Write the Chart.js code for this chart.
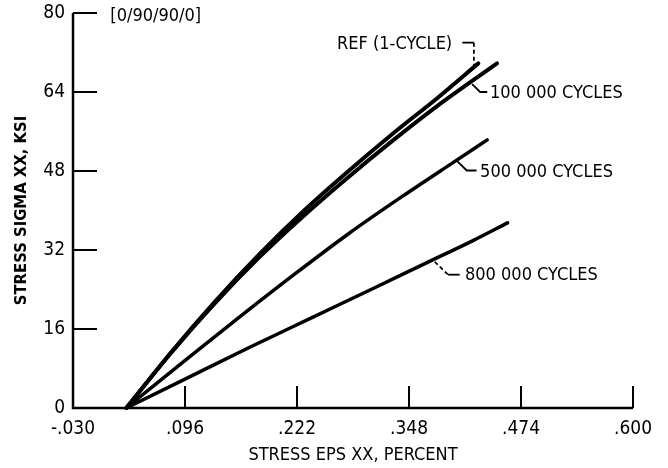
<!DOCTYPE html>
<html><head><meta charset="utf-8">
<script src="https://cdn.jsdelivr.net/npm/chart.js@4"></script>
<style>html,body{margin:0;padding:0;background:#fff}</style>
</head><body>
<canvas id="c" width="668" height="468" style="width:668px;height:468px;display:block"></canvas>
<script>
// ---- data ----
const refX   = [0.030, 0.080, 0.130, 0.180, 0.230, 0.280, 0.330, 0.380, 0.426];
const refY   = [0, 11.2, 21.6, 31.2, 40.0, 48.0, 55.6, 62.8, 69.8];
const c100kX = [0.030, 0.080, 0.130, 0.180, 0.230, 0.280, 0.330, 0.380, 0.447];
const c100kY = [0, 11.1, 21.3, 30.6, 39.0, 46.8, 54.2, 61.2, 69.8];
const c500kX = [0.030, 0.100, 0.160, 0.220, 0.280, 0.340, 0.400, 0.436];
const c500kY = [0, 10.2, 18.8, 27.2, 35.3, 42.8, 50.0, 54.3];
const c800kX = [0.030, 0.100, 0.170, 0.240, 0.310, 0.370, 0.420, 0.459];
const c800kY = [0, 6.2, 12.4, 18.4, 24.4, 29.6, 33.9, 37.5];

const xTicks = [-0.030, 0.096, 0.222, 0.348, 0.474, 0.600];
const xTickLabels = ['-.030', '.096', '.222', '.348', '.474', '.600'];
const yTicks = [0, 16, 32, 48, 64, 80];
const yTickLabels = ['0', '16', '32', '48', '64', '80'];

const xTitle = 'STRESS EPS XX, PERCENT';
const yTitle = 'STRESS SIGMA XX, KSI';
const layupLabel = '[0/90/90/0]';
const seriesNames = ['REF (1-CYCLE)', '100 000 CYCLES', '500 000 CYCLES', '800 000 CYCLES'];

// annotation anchors (data coordinates)
const labelAnchors = [
  {text: layupLabel,     x: 0.012, y: 79.4},
  {text: seriesNames[0], x: 0.267, y: 73.7},
  {text: seriesNames[1], x: 0.439, y: 63.8},
  {text: seriesNames[2], x: 0.428, y: 47.8},
  {text: seriesNames[3], x: 0.411, y: 26.8}
];
const leaders = [
  {dash: false, pts: [[0.408, 74.0], [0.421, 74.0]]},
  {dash: true,  pts: [[0.421, 74.0], [0.421, 69.2]]},
  {dash: false, pts: [[0.419, 65.6], [0.428, 64.0], [0.436, 64.0]]},
  {dash: false, pts: [[0.401, 50.2], [0.413, 48.1], [0.424, 48.1]]},
  {dash: true,  pts: [[0.377, 29.6], [0.392, 27.0]]},
  {dash: false, pts: [[0.392, 27.0], [0.405, 27.0]]}
];

const FONT = "'Liberation Sans Narrow', 'DejaVu Sans Condensed', sans-serif";
const toPts = (xs, ys) => xs.map((v, i) => ({x: v, y: ys[i]}));
const mkSet = (label, xs, ys, w) => ({
  label, data: toPts(xs, ys), showLine: true, borderColor: '#000', backgroundColor: '#000',
  borderWidth: w, pointRadius: 0, cubicInterpolationMode: 'monotone',
  borderCapStyle: 'round', borderJoinStyle: 'round', clip: false
});

const axesPlugin = {
  id: 'axesPlugin',
  beforeDatasetsDraw(chart) {
    const {ctx, chartArea: a, scales: {x, y}} = chart;
    ctx.save();
    ctx.strokeStyle = '#000';
    ctx.lineWidth = 2.5;
    ctx.beginPath();
    ctx.moveTo(a.left, y.getPixelForValue(80));
    ctx.lineTo(a.left, a.bottom);
    ctx.lineTo(x.getPixelForValue(0.6), a.bottom);
    ctx.stroke();
    ctx.lineWidth = 2;
    ctx.beginPath();
    yTicks.forEach(v => {
      if (v === 0) return;
      const py = y.getPixelForValue(v);
      ctx.moveTo(a.left, py); ctx.lineTo(a.left + 24, py);
    });
    xTicks.forEach((v, i) => {
      if (i === 0) return;
      const px = x.getPixelForValue(v);
      ctx.moveTo(px, a.bottom); ctx.lineTo(px, a.bottom - 22);
    });
    ctx.stroke();
    ctx.restore();
  },
  afterDatasetsDraw(chart) {
    const {ctx, scales: {x, y}} = chart;
    ctx.save();
    ctx.strokeStyle = '#000';
    ctx.lineWidth = 1.8;
    leaders.forEach(l => {
      ctx.setLineDash(l.dash ? [4, 3] : []);
      ctx.beginPath();
      l.pts.forEach((p, i) => {
        const px = x.getPixelForValue(p[0]), py = y.getPixelForValue(p[1]);
        if (i === 0) ctx.moveTo(px, py); else ctx.lineTo(px, py);
      });
      ctx.stroke();
    });
    ctx.setLineDash([]);
    ctx.fillStyle = '#000';
    ctx.font = '18px ' + FONT;
    ctx.textAlign = 'left';
    ctx.textBaseline = 'middle';
    labelAnchors.forEach(t => {
      ctx.fillText(t.text, x.getPixelForValue(t.x), y.getPixelForValue(t.y));
    });
    ctx.restore();
  }
};

new Chart(document.getElementById('c'), {
  type: 'scatter',
  data: {
    datasets: [
      mkSet(seriesNames[0], refX, refY, 4),
      mkSet(seriesNames[1], c100kX, c100kY, 4),
      mkSet(seriesNames[2], c500kX, c500kY, 3.5),
      mkSet(seriesNames[3], c800kX, c800kY, 3.5)
    ]
  },
  options: {
    responsive: false,
    animation: false,
    devicePixelRatio: 1,
    layout: {padding: {top: 13, right: 35, left: 0, bottom: 0}},
    plugins: {legend: {display: false}, tooltip: {enabled: false}},
    scales: {
      x: {
        type: 'linear', min: -0.03, max: 0.6,
        afterBuildTicks: s => { s.ticks = xTicks.map(v => ({value: v})); },
        afterFit: s => { s.height = 60; s.paddingLeft = 0; s.paddingRight = 0; },
        grid: {display: false, drawTicks: false},
        border: {display: false},
        ticks: {
          autoSkip: false, maxRotation: 0, padding: 10, color: '#000',
          font: {family: FONT, size: 19},
          callback: (v, i) => xTickLabels[i]
        },
        title: {display: true, text: xTitle, color: '#000',
          font: {family: FONT, size: 18}, padding: {top: 0, bottom: 2}}
      },
      y: {
        type: 'linear', min: 0, max: 80,
        afterBuildTicks: s => { s.ticks = yTicks.map(v => ({value: v})); },
        afterFit: s => { s.width = 73; s.paddingTop = 0; s.paddingBottom = 0; },
        grid: {display: false, drawTicks: false},
        border: {display: false},
        ticks: {
          autoSkip: false, padding: 8, color: '#000',
          font: {family: FONT, size: 19},
          callback: (v, i) => yTickLabels[i]
        },
        title: {display: true, text: yTitle, color: '#000',
          font: {family: FONT, size: 16.5, weight: 'bold'}, padding: {top: 12, bottom: 0}}
      }
    }
  },
  plugins: [axesPlugin]
});
</script>
</body></html>
